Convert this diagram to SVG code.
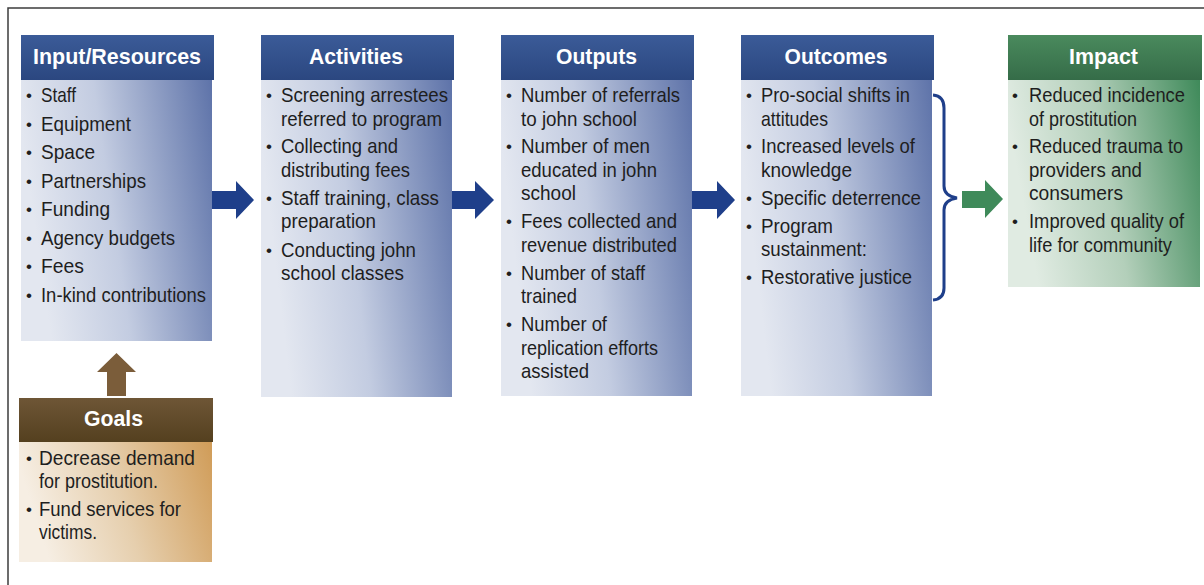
<svg xmlns="http://www.w3.org/2000/svg" width="1204" height="585" viewBox="0 0 1204 585">
<defs>
<style>
.t{font-family:"Liberation Sans Narrow","Liberation Sans",Arial,sans-serif;font-size:21px;fill:#1e1e1e}
.s{font-size:19.5px}
.b{font-family:"Liberation Sans",Arial,sans-serif;font-size:17px;fill:#1e1e1e;text-anchor:middle}
.h{font-family:"Liberation Sans",Arial,sans-serif;font-size:22px;font-weight:bold;fill:#ffffff;text-anchor:middle}
.frame{stroke:#3c3c3c;stroke-width:1.5;fill:none}
</style>
<linearGradient id="hb" x1="0" y1="0" x2="0" y2="1">
<stop offset="0" stop-color="#3b5b98"/><stop offset="1" stop-color="#2b4780"/>
</linearGradient>
<linearGradient id="bb" x1="0" y1="0.2" x2="1" y2="0">
<stop offset="0" stop-color="#e3e7f0"/><stop offset="0.4" stop-color="#c3cce1"/><stop offset="1" stop-color="#5e73a9"/>
</linearGradient>
<linearGradient id="hg" x1="0" y1="0" x2="0" y2="1">
<stop offset="0" stop-color="#4a8a5d"/><stop offset="1" stop-color="#356c48"/>
</linearGradient>
<linearGradient id="bg" x1="0" y1="0.2" x2="1" y2="0">
<stop offset="0" stop-color="#e0ebe2"/><stop offset="0.45" stop-color="#b3cfba"/><stop offset="1" stop-color="#3f8a5a"/>
</linearGradient>
<linearGradient id="hn" x1="0" y1="0" x2="0" y2="1">
<stop offset="0" stop-color="#6e5636"/><stop offset="1" stop-color="#54401f"/>
</linearGradient>
<linearGradient id="bn" x1="0" y1="0.2" x2="1" y2="0">
<stop offset="0" stop-color="#f6eee3"/><stop offset="0.45" stop-color="#e6cfae"/><stop offset="1" stop-color="#d09c58"/>
</linearGradient>
</defs>
<rect x="0" y="0" width="1204" height="585" fill="#ffffff"/>
<path class="frame" d="M8,585 V8 H1204"/>

<g id="connectors">
<polygon points="212,191 236,191 236,181 254,200 236,219 236,209 212,209" fill="#1f3f8a"/>
<polygon points="452,191 475,191 475,181 494,200 475,219 475,209 452,209" fill="#1f3f8a"/>
<polygon points="692,191 717,191 717,181 735,200 717,219 717,209 692,209" fill="#1f3f8a"/>
<path d="M933,95 Q944,96 944,108 V186 Q944,196 957,198 Q944,200 944,210 V288 Q944,299 933,300" fill="none" stroke="#1f3f8a" stroke-width="3"/>
<polygon points="962,191 985,191 985,180 1003,199 985,218 985,208 962,208" fill="#3f8a5a"/>
<polygon points="107,396 107,372 97,372 116.5,353 136,372 126,372 126,396" fill="#7b5d3a"/>
</g>

<g id="input">
<rect x="21" y="80" width="191" height="261" fill="url(#bb)"/>
<rect x="21" y="35" width="193" height="45" fill="url(#hb)"/>
<text class="h" x="117" y="64" textLength="168" lengthAdjust="spacingAndGlyphs">Input/Resources</text>
<text class="b" x="29" y="101">•</text><text class="t" x="41" y="102" textLength="35" lengthAdjust="spacingAndGlyphs">Staff</text>
<text class="b" x="29" y="129.5">•</text><text class="t" x="41" y="130.5" textLength="90" lengthAdjust="spacingAndGlyphs">Equipment</text>
<text class="b" x="29" y="158">•</text><text class="t" x="41" y="159" textLength="54" lengthAdjust="spacingAndGlyphs">Space</text>
<text class="b" x="29" y="186.5">•</text><text class="t" x="41" y="187.5" textLength="105" lengthAdjust="spacingAndGlyphs">Partnerships</text>
<text class="b" x="29" y="215">•</text><text class="t" x="41" y="216" textLength="69" lengthAdjust="spacingAndGlyphs">Funding</text>
<text class="b" x="29" y="243.5">•</text><text class="t" x="41" y="244.5" textLength="134" lengthAdjust="spacingAndGlyphs">Agency budgets</text>
<text class="b" x="29" y="272">•</text><text class="t" x="41" y="273" textLength="43" lengthAdjust="spacingAndGlyphs">Fees</text>
<text class="b" x="29" y="300.5">•</text><text class="t" x="41" y="301.5" textLength="165" lengthAdjust="spacingAndGlyphs">In-kind contributions</text>
</g>

<g id="activities">
<rect x="261" y="80" width="191" height="317" fill="url(#bb)"/>
<rect x="261" y="35" width="193" height="45" fill="url(#hb)"/>
<text class="h" x="356" y="64" textLength="94" lengthAdjust="spacingAndGlyphs">Activities</text>
<text class="b" x="269" y="101">•</text><text class="t" x="281" y="102" textLength="167" lengthAdjust="spacingAndGlyphs">Screening arrestees</text>
<text class="t" x="281" y="125.5" textLength="161" lengthAdjust="spacingAndGlyphs">referred to program</text>
<text class="b" x="269" y="152">•</text><text class="t" x="281" y="153" textLength="117" lengthAdjust="spacingAndGlyphs">Collecting and</text>
<text class="t" x="281" y="176.5" textLength="129" lengthAdjust="spacingAndGlyphs">distributing fees</text>
<text class="b" x="269" y="203.5">•</text><text class="t" x="281" y="204.5" textLength="158" lengthAdjust="spacingAndGlyphs">Staff training, class</text>
<text class="t" x="281" y="228" textLength="95" lengthAdjust="spacingAndGlyphs">preparation</text>
<text class="b" x="269" y="255.5">•</text><text class="t" x="281" y="256.5" textLength="135" lengthAdjust="spacingAndGlyphs">Conducting john</text>
<text class="t" x="281" y="280" textLength="123" lengthAdjust="spacingAndGlyphs">school classes</text>
</g>

<g id="outputs">
<rect x="501" y="80" width="191" height="316" fill="url(#bb)"/>
<rect x="501" y="35" width="193" height="45" fill="url(#hb)"/>
<text class="h" x="596.5" y="64" textLength="81" lengthAdjust="spacingAndGlyphs">Outputs</text>
<text class="b" x="509" y="101">•</text><text class="t" x="521" y="102" textLength="159" lengthAdjust="spacingAndGlyphs">Number of referrals</text>
<text class="t" x="521" y="125.5" textLength="116" lengthAdjust="spacingAndGlyphs">to john school</text>
<text class="b" x="509" y="152">•</text><text class="t" x="521" y="153" textLength="129" lengthAdjust="spacingAndGlyphs">Number of men</text>
<text class="t" x="521" y="176.5" textLength="136" lengthAdjust="spacingAndGlyphs">educated in john</text>
<text class="t" x="521" y="200" textLength="55" lengthAdjust="spacingAndGlyphs">school</text>
<text class="b" x="509" y="227">•</text><text class="t" x="521" y="228" textLength="156" lengthAdjust="spacingAndGlyphs">Fees collected and</text>
<text class="t" x="521" y="251.5" textLength="156" lengthAdjust="spacingAndGlyphs">revenue distributed</text>
<text class="b" x="509" y="278.5">•</text><text class="t" x="521" y="279.5" textLength="124" lengthAdjust="spacingAndGlyphs">Number of staff</text>
<text class="t" x="521" y="303" textLength="56" lengthAdjust="spacingAndGlyphs">trained</text>
<text class="b" x="509" y="330">•</text><text class="t" x="521" y="331" textLength="86" lengthAdjust="spacingAndGlyphs">Number of</text>
<text class="t" x="521" y="354.5" textLength="137" lengthAdjust="spacingAndGlyphs">replication efforts</text>
<text class="t" x="521" y="378" textLength="68" lengthAdjust="spacingAndGlyphs">assisted</text>
</g>

<g id="outcomes">
<rect x="741" y="80" width="191" height="316" fill="url(#bb)"/>
<rect x="741" y="35" width="193" height="45" fill="url(#hb)"/>
<text class="h" x="836" y="64" textLength="103" lengthAdjust="spacingAndGlyphs">Outcomes</text>
<text class="b" x="749" y="101">•</text><text class="t" x="761" y="102" textLength="149" lengthAdjust="spacingAndGlyphs">Pro-social shifts in</text>
<text class="t" x="761" y="125.5" textLength="67" lengthAdjust="spacingAndGlyphs">attitudes</text>
<text class="b" x="749" y="152">•</text><text class="t" x="761" y="153" textLength="154" lengthAdjust="spacingAndGlyphs">Increased levels of</text>
<text class="t" x="761" y="176.5" textLength="91" lengthAdjust="spacingAndGlyphs">knowledge</text>
<text class="b" x="749" y="203.5">•</text><text class="t" x="761" y="204.5" textLength="160" lengthAdjust="spacingAndGlyphs">Specific deterrence</text>
<text class="b" x="749" y="231.5">•</text><text class="t" x="761" y="232.5" textLength="72" lengthAdjust="spacingAndGlyphs">Program</text>
<text class="t" x="761" y="256" textLength="106" lengthAdjust="spacingAndGlyphs">sustainment:</text>
<text class="b" x="749" y="283">•</text><text class="t" x="761" y="284" textLength="151" lengthAdjust="spacingAndGlyphs">Restorative justice</text>
</g>

<g id="impact">
<rect x="1008" y="80" width="192" height="207" fill="url(#bg)"/>
<rect x="1008" y="35" width="194" height="45" fill="url(#hg)"/>
<text class="h" x="1103.5" y="64" textLength="69" lengthAdjust="spacingAndGlyphs">Impact</text>
<text class="b" x="1015" y="101">•</text><text class="t s" x="1029" y="102" textLength="156" lengthAdjust="spacingAndGlyphs">Reduced incidence</text>
<text class="t s" x="1029" y="125.5" textLength="108" lengthAdjust="spacingAndGlyphs">of prostitution</text>
<text class="b" x="1015" y="152">•</text><text class="t s" x="1029" y="153" textLength="154" lengthAdjust="spacingAndGlyphs">Reduced trauma to</text>
<text class="t s" x="1029" y="176.5" textLength="113" lengthAdjust="spacingAndGlyphs">providers and</text>
<text class="t s" x="1029" y="200" textLength="94" lengthAdjust="spacingAndGlyphs">consumers</text>
<text class="b" x="1015" y="227">•</text><text class="t s" x="1029" y="228" textLength="155" lengthAdjust="spacingAndGlyphs">Improved quality of</text>
<text class="t s" x="1029" y="251.5" textLength="143" lengthAdjust="spacingAndGlyphs">life for community</text>
</g>

<g id="goals">
<rect x="19" y="442" width="193" height="120" fill="url(#bn)"/>
<rect x="19" y="398" width="194" height="44" fill="url(#hn)"/>
<text class="h" x="113.5" y="426" textLength="59" lengthAdjust="spacingAndGlyphs">Goals</text>
<text class="b" x="29" y="464">•</text><text class="t" x="39" y="465" textLength="156" lengthAdjust="spacingAndGlyphs">Decrease demand</text>
<text class="t" x="39" y="488" textLength="119" lengthAdjust="spacingAndGlyphs">for prostitution.</text>
<text class="b" x="29" y="515">•</text><text class="t" x="39" y="516" textLength="142" lengthAdjust="spacingAndGlyphs">Fund services for</text>
<text class="t" x="39" y="538.5" textLength="58" lengthAdjust="spacingAndGlyphs">victims.</text>
</g>
</svg>
